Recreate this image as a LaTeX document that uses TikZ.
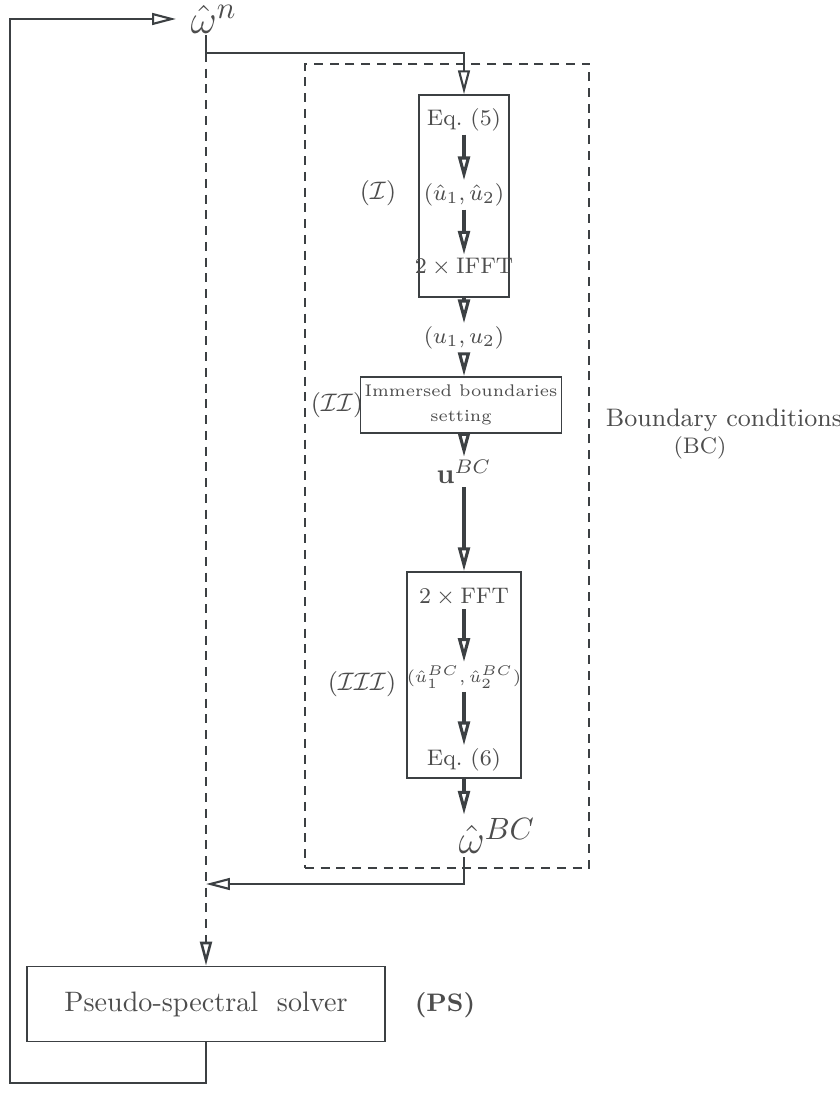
\documentclass[tikz,border=0pt]{standalone}
\usetikzlibrary{positioning,arrows.meta}

\definecolor{linegray}{HTML}{3C4043}
\definecolor{textgray}{HTML}{4D4D4D}

\tikzstyle{block} = [rectangle, draw=linegray, line width=0.55pt]
\tikzstyle{inside} = [inner sep=1pt, font=\footnotesize]
\tikzstyle{arrow} = [draw=linegray, line width=0.75pt, -{Triangle[open,length=8.5pt,width=4.2pt]}]
\tikzstyle{innerarrow} = [arrow, line width=1.1pt]
\tikzstyle{dashline} = [draw=linegray, line width=0.9pt, dash pattern=on 3.2pt off 2.4pt]

\begin{document}
\begin{tikzpicture}[x=0.0125cm, y=-0.0125cm, text=textgray]
    \useasboundingbox (0,0) rectangle (840,1095);

    % Frame
    \node(bcframe) [dashline, minimum width=3.55cm, minimum height=10.05cm] at (447,466) {};

    % Nodes
    \node(omegan) [anchor=west, inner xsep=5pt, inner ysep=0.5pt, font=\fontsize{15.5}{18}\selectfont] at (176,19) {$\hat{\omega}^n$};
    \coordinate (split) at (206,53);

    \node(box1) [block, minimum width=1.125cm, minimum height=2.525cm] at (464,196) {};
    \node(eq5) [inside] at (464,120) {Eq.~(5)};
    \node(uhat) [inside] at (464,195) {$(\hat{u}_1,\hat{u}_2)$};
    \node(ifft) [inside] at (464,267) {$2\times\mathrm{IFFT}$};

    \node(u12) [inside] at (464,338) {$(u_1,u_2)$};
    \node(box2) [block, minimum width=2.34cm, minimum height=0.7cm, inner sep=1.5pt, align=center, font=\fontsize{6}{9}\selectfont] at (461,405) {Immersed boundaries\\ setting};
    \node(ubc) [inner sep=1pt] at (464,472) {$\mathbf{u}^{BC}$};

    \node(box3) [block, minimum width=1.425cm, minimum height=2.575cm] at (464,675) {};
    \node(fft) [inside] at (464,597) {$2\times\mathrm{FFT}$};
    \node(uhbc) [inside, font=\fontsize{6.5}{8}\selectfont] at (464,677) {$(\hat{u}_1^{BC},\hat{u}_2^{BC})$};
    \node(eq6) [inside] at (464,760) {Eq.~(6)};
    \node(omegabc) [inner sep=1pt, font=\fontsize{15.5}{18}\selectfont] at (497,836) {$\hat{\omega}^{BC}$};
    \coordinate (merge) at (206,884);

    \node(ps) [block, minimum width=4.475cm, minimum height=0.94cm] at (206,1004) {Pseudo-spectral~~solver};
    \coordinate (corner) at (10,1083);

    % Arrows
    \draw [arrow] (ps.south) |- (corner) |- (omegan.west);
    \draw [arrow] (omegan.south -| split) -- (split) -| (box1.north);
    \draw [dashline, -{Triangle[open,length=8.5pt,width=4.2pt]}] (split) -- (ps.north);
    \draw [innerarrow] (eq5) -- (uhat);
    \draw [innerarrow] (uhat) -- (ifft);
    \draw [innerarrow] (box1) -- (u12);
    \draw [innerarrow] (u12) -- (box2.north -| u12);
    \draw [innerarrow] (box2.south -| ubc) -- (ubc);
    \draw [innerarrow] (ubc) -- (box3);
    \draw [innerarrow] (fft) -- (uhbc);
    \draw [innerarrow] (uhbc) -- (eq6);
    \draw [innerarrow] (box3.south) -- (box3.south |- omegabc.north);
    \draw [arrow] (omegabc.south -| box3.south) |- (merge);

    % Labels
    \node(tagI) at (378,193) {\small $(\mathcal{I})$};
    \node(tagII) at (337,405) {\small $(\mathcal{I}\mathcal{I})$};
    \node(tagIII) at (362,684) {\small $(\mathcal{I}\mathcal{I}\mathcal{I})$};
    \node(bctitle) at (724,420) {\small Boundary conditions};
    \node(bcshort) at (700,448) {\footnotesize (BC)};
    \node(pstag) at (445,1005) {\small\textbf{(PS)}};

\end{tikzpicture}
\end{document}
